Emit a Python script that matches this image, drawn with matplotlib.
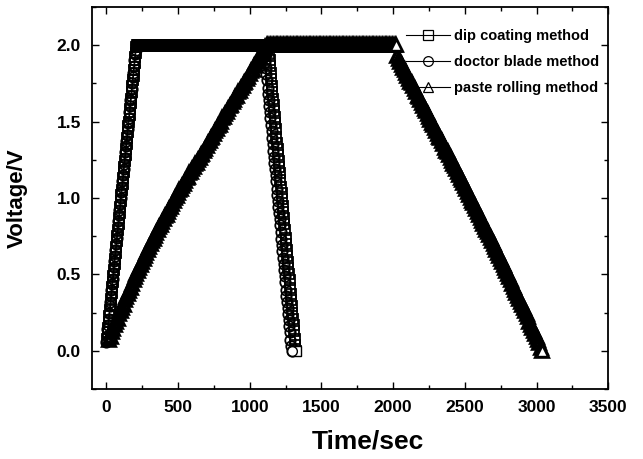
import numpy as np
import matplotlib
matplotlib.use("Agg")
import matplotlib.pyplot as plt

plt.rcParams['font.family'] = ['Liberation Sans', 'DejaVu Sans']
plt.rcParams['font.weight'] = 'bold'

# galvanostatic charge / hold / discharge records, voltage in V
# each series is sampled at a fixed interval starting at its own t0 (s)

# dip coating (squares), sampled every 4 s from t = 6 s
dip_t0, dip_step = 6, 4
dip_charge = [0.08, 0.12, 0.15, 0.19, 0.23, 0.27, 0.30, 0.34, 0.38, 0.42,
              0.45, 0.49, 0.53, 0.57, 0.60, 0.64, 0.68, 0.72, 0.75, 0.79,
              0.83, 0.87, 0.90, 0.94, 0.98, 1.02, 1.05, 1.09, 1.13, 1.17,
              1.20, 1.24, 1.28, 1.32, 1.35, 1.39, 1.43, 1.47, 1.50, 1.54,
              1.58, 1.62, 1.65, 1.69, 1.73, 1.77, 1.80, 1.84, 1.88, 1.92,
              1.95, 1.99]
dip_hold = [2.00] * 230
dip_discharge = [1.94, 1.90, 1.86, 1.82, 1.78, 1.73, 1.69, 1.65, 1.61, 1.57,
                 1.53, 1.49, 1.45, 1.40, 1.36, 1.32, 1.28, 1.24, 1.20, 1.16,
                 1.12, 1.07, 1.03, 0.99, 0.95, 0.91, 0.87, 0.83, 0.79, 0.74,
                 0.70, 0.66, 0.62, 0.58, 0.54, 0.50, 0.46, 0.41, 0.37, 0.33,
                 0.29, 0.25, 0.21, 0.17, 0.13, 0.08, 0.04, 0.00]

# doctor blade (circles), sampled every 4 s from t = 0 s
doctor_t0, doctor_step = 0, 4
doctor_charge = [0.06, 0.10, 0.14, 0.17, 0.21, 0.25, 0.29, 0.32, 0.36, 0.40,
                 0.44, 0.47, 0.51, 0.55, 0.59, 0.62, 0.66, 0.70, 0.74, 0.77,
                 0.81, 0.85, 0.89, 0.92, 0.96, 1.00, 1.04, 1.07, 1.11, 1.15,
                 1.19, 1.22, 1.26, 1.30, 1.34, 1.37, 1.41, 1.45, 1.49, 1.52,
                 1.56, 1.60, 1.64, 1.67, 1.71, 1.75, 1.79, 1.82, 1.86, 1.90,
                 1.94, 1.97, 2.00]
doctor_hold = [2.00] * 223
doctor_discharge = [1.93, 1.89, 1.85, 1.81, 1.77, 1.72, 1.68, 1.64, 1.60, 1.56,
                    1.52, 1.48, 1.44, 1.39, 1.35, 1.31, 1.27, 1.23, 1.19, 1.15,
                    1.11, 1.06, 1.02, 0.98, 0.94, 0.90, 0.86, 0.82, 0.78, 0.73,
                    0.69, 0.65, 0.61, 0.57, 0.53, 0.49, 0.45, 0.40, 0.36, 0.32,
                    0.28, 0.24, 0.20, 0.16, 0.12, 0.07, 0.03, 0.00]

# paste rolling (triangles), sampled every 10 s from t = 20 s
paste_t0, paste_step = 20, 10
paste_charge = [0.07, 0.09, 0.12, 0.14, 0.17, 0.19, 0.21, 0.24, 0.26,
                0.28, 0.30, 0.33, 0.35, 0.37, 0.39, 0.41, 0.44, 0.46, 0.48,
                0.50, 0.52, 0.54, 0.56, 0.58, 0.60, 0.62, 0.64, 0.66, 0.68,
                0.70, 0.72, 0.73, 0.75, 0.77, 0.79, 0.81, 0.82, 0.84, 0.86,
                0.88, 0.89, 0.91, 0.93, 0.94, 0.96, 0.98, 1.00, 1.01, 1.03,
                1.05, 1.06, 1.08, 1.09, 1.11, 1.13, 1.14, 1.16, 1.17, 1.19,
                1.20, 1.22, 1.23, 1.25, 1.26, 1.28, 1.29, 1.31, 1.32, 1.34,
                1.36, 1.37, 1.39, 1.40, 1.42, 1.44, 1.45, 1.47, 1.48, 1.50,
                1.52, 1.53, 1.55, 1.56, 1.58, 1.60, 1.61, 1.63, 1.64, 1.66,
                1.67, 1.69, 1.70, 1.72, 1.73, 1.75, 1.76, 1.78, 1.79, 1.81,
                1.83, 1.84, 1.86, 1.87, 1.89, 1.91, 1.92, 1.94, 1.95, 1.97,
                1.99, 2.00]
paste_hold = [2.00] * 90
paste_discharge = [1.93, 1.91, 1.89, 1.87, 1.85, 1.84, 1.82, 1.80,
                   1.78, 1.76, 1.75, 1.73, 1.71, 1.69, 1.67, 1.66, 1.64, 1.62,
                   1.60, 1.58, 1.57, 1.55, 1.53, 1.51, 1.49, 1.48, 1.46, 1.44,
                   1.42, 1.40, 1.39, 1.37, 1.35, 1.33, 1.31, 1.30, 1.28, 1.26,
                   1.24, 1.22, 1.21, 1.19, 1.17, 1.15, 1.13, 1.12, 1.10, 1.08,
                   1.06, 1.04, 1.02, 1.00, 0.98, 0.97, 0.95, 0.93, 0.91, 0.89,
                   0.87, 0.85, 0.83, 0.81, 0.79, 0.78, 0.76, 0.74, 0.72, 0.70,
                   0.68, 0.66, 0.64, 0.62, 0.60, 0.58, 0.56, 0.54, 0.52, 0.50,
                   0.48, 0.46, 0.44, 0.42, 0.40, 0.38, 0.36, 0.34, 0.32, 0.30,
                   0.28, 0.26, 0.24, 0.22, 0.19, 0.17, 0.15, 0.13, 0.11, 0.09,
                   0.07, 0.05, 0.02, 0.00]

labels = ["dip coating method", "doctor blade method", "paste rolling method"]


def sampled(t0, step, *parts):
    v = np.concatenate([np.asarray(p, dtype=float) for p in parts])
    t = t0 + step * np.arange(len(v))
    return t, v


# (t, v), marker, size, edge width
series = [
    (sampled(dip_t0, dip_step, dip_charge, dip_hold, dip_discharge), 's', 7.5, 1.3),
    (sampled(doctor_t0, doctor_step, doctor_charge, doctor_hold, doctor_discharge), 'o', 7.5, 1.3),
    (sampled(paste_t0, paste_step, paste_charge, paste_hold, paste_discharge), '^', 8, 2.6),
]

fig = plt.figure(figsize=(6.43, 4.59), dpi=100)
ax = fig.add_axes([0.143, 0.1525, 0.803, 0.8325])

# hollow symbols: dense runs of them merge into a solid band
for ((t, v), mk, ms, mew), lab in zip(series, labels):
    ax.plot(t, v, color='black', lw=0.8, marker=mk, markersize=ms,
            markerfacecolor='none', markeredgecolor='black',
            markeredgewidth=mew, label=lab)

# the last symbol of each run stays open (white inside)
for (t, v), mk, ms, mew in series:
    ax.plot(t[-1:], v[-1:], linestyle='none', marker=mk, markersize=ms - 0.5,
            markerfacecolor='white', markeredgecolor='black',
            markeredgewidth=1.0)

# end of the paste rolling hold, just before the discharge step
t_p, v_p = series[2][0]
k_end = len(paste_charge) + len(paste_hold) - 1
ax.plot(t_p[k_end], v_p[k_end], linestyle='none', marker='^', markersize=7.5,
        markerfacecolor='white', markeredgecolor='black', markeredgewidth=1.0)

ax.set_xlim(-100, 3500)
ax.set_ylim(-0.25, 2.25)
ax.set_xticks(np.arange(0, 3501, 500))
ax.set_xticks(np.arange(0, 3501, 250), minor=True)
ax.set_yticks([0.0, 0.5, 1.0, 1.5, 2.0])
ax.set_yticks(np.arange(-0.25, 2.26, 0.25), minor=True)
ax.yaxis.set_major_formatter(plt.FormatStrFormatter('%.1f'))

ax.tick_params(which='both', direction='in', top=True, right=True, width=1.0)
ax.tick_params(which='major', length=5, labelsize=12.5, pad=8)
ax.tick_params(which='minor', length=3)
for sp in ax.spines.values():
    sp.set_linewidth(1.3)

ax.set_xlabel("Time/sec", fontsize=19, fontweight='bold')
ax.xaxis.set_label_coords(0.535, -0.105)
ax.set_ylabel("Voltage/V", fontsize=16, fontweight='bold')
ax.yaxis.set_label_coords(-0.125, 0.5)

leg = ax.legend(loc='upper right', bbox_to_anchor=(1.0, 0.964), frameon=False,
                fontsize=10.5, handlelength=3.0, handletextpad=0.3,
                labelspacing=0.8, borderaxespad=0.2)
for h in leg.legend_handles:
    h.set_markeredgewidth(0.9)
    h.set_markersize(7)

fig.savefig("out.png", dpi=100)
